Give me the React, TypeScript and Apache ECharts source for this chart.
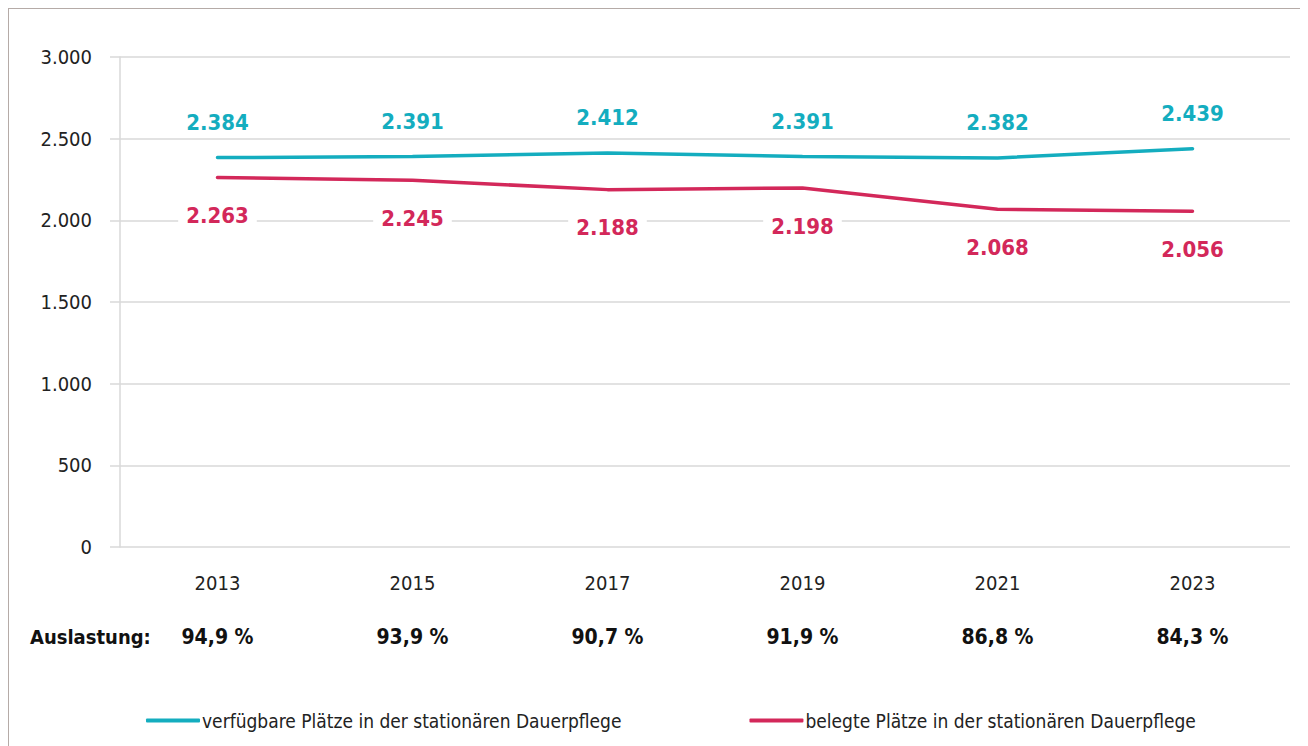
import React, { useEffect, useRef } from "react";
import * as echarts from "echarts";

const years = ["2013", "2015", "2017", "2019", "2021", "2023"];
const available = [2384, 2391, 2412, 2391, 2382, 2439];
const occupied = [2263, 2245, 2188, 2198, 2068, 2056];
const utilization = ["94,9 %", "93,9 %", "90,7 %", "91,9 %", "86,8 %", "84,3 %"];
const seriesNames = [
  "verfügbare Plätze in der stationären Dauerpflege",
  "belegte Plätze in der stationären Dauerpflege",
];

const FONT = "'DejaVu Sans Condensed', sans-serif";
const CYAN = "#14adbf";
const RED = "#d3285a";
const fmt = (v: number) => v.toLocaleString("de-DE");

export default function App() {
  const ref = useRef<HTMLDivElement>(null);
  useEffect(() => {
    const chart = echarts.init(ref.current!, undefined, { renderer: "svg" });
    const labelBase = {
      show: true,
      fontSize: 22,
      fontWeight: "bold",
      fontFamily: FONT,
      backgroundColor: "#fff",
      padding: [2, 8],
      formatter: (p: any) => fmt(p.value),
    };
    chart.setOption({
      animation: false,
      textStyle: { fontFamily: FONT },
      grid: { left: 111, top: 48, width: 1170, height: 490 },
      xAxis: {
        type: "category",
        data: years,
        boundaryGap: true,
        axisLine: { show: false },
        axisTick: { show: false },
        axisLabel: {
          margin: 9,
          formatter: (v: string, i: number) => `{y|${v}}\n{a|${utilization[i]}}`,
          rich: {
            y: { fontSize: 20, lineHeight: 54, color: "#222", fontFamily: FONT },
            a: { fontSize: 21, lineHeight: 54, color: "#111", fontWeight: "bold", fontFamily: FONT },
          },
        },
      },
      yAxis: {
        type: "value",
        min: 0,
        max: 3000,
        interval: 500,
        axisLine: { show: true, lineStyle: { color: "#d9d9d9", width: 1.5 } },
        axisTick: { show: true, length: 10, lineStyle: { color: "#d9d9d9", width: 1.5 } },
        splitLine: { lineStyle: { color: "#d9d9d9", width: 1.5 } },
        axisLabel: {
          margin: 28,
          fontSize: 20,
          color: "#222",
          fontFamily: FONT,
          formatter: (v: number) => fmt(v),
        },
      },
      legend: {
        top: 697,
        left: 132,
        itemWidth: 54,
        itemHeight: 4,
        itemGap: 128,
        icon: "roundRect",
        textStyle: { fontSize: 19, color: "#222", fontFamily: FONT, padding: [0, 0, 0, -3] },
        data: seriesNames,
      },
      graphic: [
        {
          type: "text",
          left: 21,
          top: 618,
          style: { text: "Auslastung:", fontSize: 20, fontWeight: "bold", fontFamily: FONT, fill: "#111" },
        },
      ],
      series: [
        {
          name: seriesNames[0],
          type: "line",
          data: available,
          symbol: "circle",
          symbolSize: 0.1,
          showSymbol: true,
          lineStyle: { color: CYAN, width: 3.5, cap: "round" },
          itemStyle: { color: CYAN },
          label: { ...labelBase, position: "top", distance: 22, color: CYAN },
        },
        {
          name: seriesNames[1],
          type: "line",
          data: occupied,
          symbol: "circle",
          symbolSize: 0.1,
          showSymbol: true,
          lineStyle: { color: RED, width: 3.5, cap: "round" },
          itemStyle: { color: RED },
          label: { ...labelBase, position: "bottom", distance: 25, color: RED },
        },
      ],
    });
    return () => chart.dispose();
  }, []);
  return (
    <div style={{ border: "1px solid #b5aba7", width: 1310, height: 760, boxSizing: "content-box" }}>
      <div ref={ref} style={{ width: 1310, height: 760 }} />
    </div>
  );
}
